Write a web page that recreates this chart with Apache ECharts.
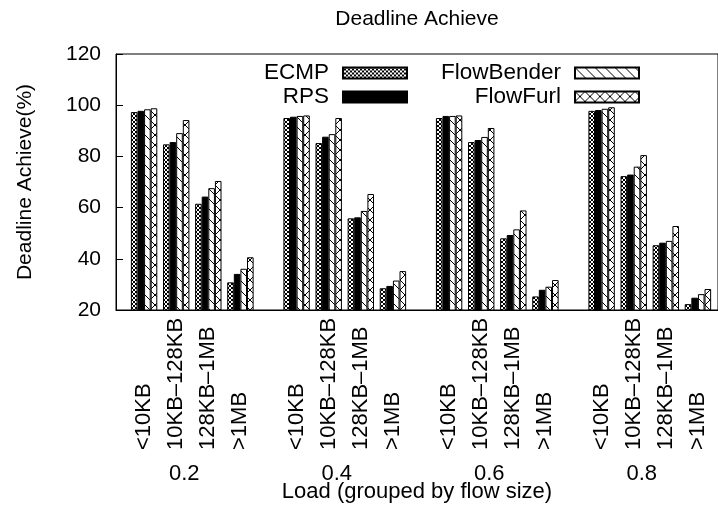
<!DOCTYPE html>
<html>
<head>
<meta charset="utf-8">
<script src="https://cdn.jsdelivr.net/npm/echarts@6/dist/echarts.min.js"></script>
<style>
  html, body { margin: 0; padding: 0; background: #fff; }
  #main { width: 718px; height: 513px; }
</style>
</head>
<body>
<div id="main"></div>
<script>
// groups on the x axis
var loads = ['0.2', '0.4', '0.6', '0.8'];
var sizes = ['<10KB', '10KB–128KB', '128KB–1MB', '>1MB'];
// values read per load: <10KB, 10KB-128KB, 128KB-1MB, >1MB
var ecmp       = [97.3, 84.7, 61.5, 30.8,  95.0, 85.2, 55.8, 28.5,  95.0, 85.6, 48.0, 25.3,  97.8, 72.3, 45.3, 22.3];
var rps        = [97.8, 85.6, 64.3, 34.1,  95.5, 87.7, 56.2, 29.4,  95.8, 86.4, 49.3, 27.9,  98.1, 72.9, 46.3, 24.8];
var flowbender = [98.4, 89.1, 67.6, 36.1,  95.8, 88.7, 58.7, 31.5,  95.8, 87.6, 51.5, 29.1,  98.6, 76.0, 47.0, 26.2];
var flowfurl   = [98.8, 94.2, 70.4, 40.6,  96.0, 95.0, 65.3, 35.2,  96.0, 91.1, 58.9, 31.7,  99.2, 80.5, 52.8, 28.2];
var yMin = 20, yMax = 120, yStep = 20;

// slot layout: 75 narrow categories, clusters every 4 slots, groups every 19
var nSlots = 75;
function slotOf(g, k) { return 3 + 19 * g + 4 * k; }
var slots = [], sizeLabel = [], loadLabel = [];
for (var i = 0; i < nSlots; i++) { slots.push('s' + i); sizeLabel.push(''); loadLabel.push(''); }
loads.forEach(function (l, g) {
    loadLabel[8 + 19 * g] = l;
    sizes.forEach(function (s, k) { sizeLabel[slotOf(g, k)] = s; });
});
function spread(vals) {
    var out = [];
    for (var i = 0; i < nSlots; i++) out.push('-');
    vals.forEach(function (v, j) { out[slotOf(Math.floor(j / 4), j % 4)] = v; });
    return out;
}

// fill patterns like gnuplot's
function pattern(kind) {
    var c = document.createElement('canvas');
    var s = kind === 'dense' ? 4 : 10;
    c.width = s; c.height = s;
    var ctx = c.getContext('2d');
    ctx.fillStyle = '#fff';
    ctx.fillRect(0, 0, s, s);
    ctx.strokeStyle = '#000';
    ctx.lineWidth = 1;
    ctx.beginPath();
    for (var k = -1; k <= 1; k++) {
        if (kind !== 'slash') { ctx.moveTo(0, k * s); ctx.lineTo(s, s + k * s); }
        if (kind !== 'back') { ctx.moveTo(0, s + k * s); ctx.lineTo(s, k * s); }
    }
    if (kind === 'back') { ctx.moveTo(0, 0); ctx.lineTo(s, s); }
    ctx.stroke();
    return { image: c, repeat: 'repeat' };
}

var myChart = echarts.init(document.getElementById('main'));
var font = 'Liberation Sans, Arial, sans-serif';

function bar(name, vals, fill) {
    return {
        name: name,
        type: 'bar',
        data: spread(vals),
        barWidth: 6.6,
        barGap: '0%',
        itemStyle: { color: fill, borderColor: '#000', borderWidth: 1 }
    };
}

var option = {
    animation: false,
    textStyle: { fontFamily: font, color: '#000' },
    grid: { left: 116, top: 54, width: 602, height: 256, show: true, borderColor: '#000', borderWidth: 1,
            containLabel: false, outerBoundsMode: 'none' },
    graphic: [{
        type: 'text', x: 417, y: 19,
        style: { text: 'Deadline Achieve', fontSize: 21, fontFamily: font, fill: '#000', align: 'center', verticalAlign: 'middle' }
    }],
    legend: [
        { data: ['ECMP', 'RPS'], orient: 'vertical', align: 'right', right: 310, top: 61.5 },
        { data: ['FlowBender', 'FlowFurl'], orient: 'vertical', align: 'right', right: 78, top: 61.5 }
    ].map(function (l) {
        return Object.assign(l, {
            padding: 0, itemGap: 1, itemWidth: 64, itemHeight: 11, icon: 'rect', selectedMode: false,
            textStyle: { fontSize: 22.5, color: '#000', fontFamily: font, lineHeight: 22, padding: [0, 9, 0, 0] }
        });
    }),
    xAxis: [{
        type: 'category',
        data: slots,
        position: 'bottom',
        axisLine: { lineStyle: { color: '#000' } },
        axisTick: { show: false },
        axisLabel: {
            interval: 0, rotate: 90, align: 'left', margin: 140, fontSize: 22, color: '#000',
            formatter: function (v, i) { return sizeLabel[i]; }
        },
        name: 'Load (grouped by flow size)',
        nameLocation: 'middle',
        nameGap: 171,
        nameMoveOverlap: false,
        nameTextStyle: { fontSize: 22, color: '#000' }
    }, {
        type: 'category',
        data: slots,
        position: 'bottom',
        axisLine: { show: false },
        axisTick: { show: false },
        axisLabel: {
            interval: 0, margin: 153, fontSize: 22, color: '#000',
            formatter: function (v, i) { return loadLabel[i]; }
        }
    }],
    yAxis: {
        type: 'value',
        min: yMin, max: yMax, interval: yStep,
        axisLine: { show: true, lineStyle: { color: '#000' } },
        axisTick: { show: true, inside: true, length: 7, lineStyle: { color: '#000' } },
        axisLabel: { fontSize: 21, color: '#000', margin: 15 },
        splitLine: { show: false },
        name: 'Deadline Achieve(%)',
        nameLocation: 'middle',
        nameGap: 80,
        nameMoveOverlap: false,
        nameTextStyle: { fontSize: 21, color: '#000' }
    },
    series: [
        bar('ECMP', ecmp, pattern('dense')),
        bar('RPS', rps, '#000'),
        bar('FlowBender', flowbender, pattern('back')),
        bar('FlowFurl', flowfurl, pattern('cross'))
    ]
};

myChart.setOption(option);
</script>
</body>
</html>
